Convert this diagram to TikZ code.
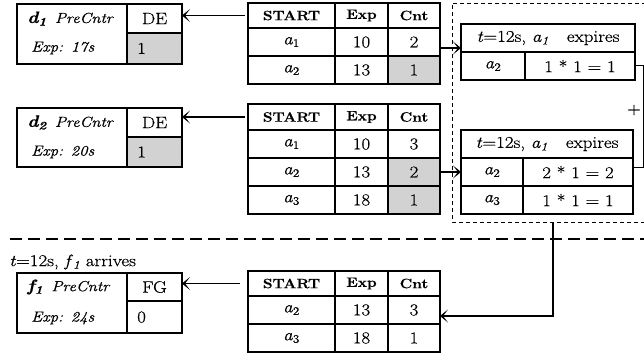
\documentclass[tikz,border=0pt]{standalone}
\usepackage{fontspec}
\setmainfont{Latin Modern Roman}[FakeStretch=1.15,FakeBold=0.6]
\usetikzlibrary{arrows.meta}
\newcommand{\rg}{\fontsize{16.5}{19}\selectfont}
\newcommand{\lb}{\fontsize{14.5}{17}\selectfont}
\newcommand{\bh}{\fontsize{13.5}{16}\selectfont\bfseries}
\newcommand{\va}[1]{\textit{a}\textsubscript{#1}}
\newcommand{\vi}[2]{\textit{#1}\textsubscript{\textit{#2}}}
\begin{document}
\begin{tikzpicture}[x=1pt,y=-1pt,
  cell/.style={draw, line width=1.3pt, outer sep=0pt, inner sep=0pt, anchor=north west, font=\rg},
  hcell/.style={cell, font=\bh},
  wh/.style 2 args={minimum width=#1pt, minimum height=#2pt},
  grey/.style={fill=gray!35},
  arr/.style={line width=1.8pt, -{Stealth[length=8pt,width=13pt,inset=5pt]}},
  lbl/.style={inner sep=0pt, font=\lb, anchor=west},
  vlbl/.style={inner sep=0pt, font=\rg, anchor=west},
  boxline/.style={line width=1pt, dash pattern=on 4pt off 3pt},
  sepline/.style={line width=1.8pt, dash pattern=on 12pt off 6pt},
  thinline/.style={line width=0.7pt}
]
\useasboundingbox (0,0) rectangle (644,356);
\clip (0,0) rectangle (644,356);

% ---------- left boxes ----------
\node[cell, wh={110}{60}] (dl1) at (17,4) {};
\node[cell, wh={55}{29}] (d1h) at (127,4) {DE};
\node[cell, wh={55}{31}, grey] (d1v) at (127,33) {};
\node[vlbl] (d1val) at (137,48.5) {1};
\node[lbl, font=\rg] (d1n) at (27,18.5) {{\bfseries\itshape d\textsubscript{1}}\hspace{0.5em}{\lb\itshape PreCntr}};
\node[lbl] (d1x) at (31,48) {\itshape Exp: 17s};

\node[cell, wh={110}{59}] (dl2) at (17,108) {};
\node[cell, wh={55}{29}] (d2h) at (127,108) {DE};
\node[cell, wh={55}{30}, grey] (d2v) at (127,137) {};
\node[vlbl] (d2val) at (137,152) {1};
\node[lbl, font=\rg] (d2n) at (27,122.5) {{\bfseries\itshape d\textsubscript{2}}\hspace{0.5em}{\lb\itshape PreCntr}};
\node[lbl] (d2x) at (31,152) {\itshape Exp: 20s};

\node[cell, wh={110}{60}] (fl1) at (17,273) {};
\node[cell, wh={55}{28}] (f1h) at (127,273) {FG};
\node[cell, wh={55}{32}] (f1v) at (127,301) {};
\node[vlbl] (f1val) at (137,317) {0};
\node[lbl, font=\rg] (f1n) at (27,287) {{\bfseries\itshape f\textsubscript{1}}\hspace{0.5em}{\lb\itshape PreCntr}};
\node[lbl] (f1x) at (31,318) {\itshape Exp: 24s};

\node[lbl, font=\rg] (arrive) at (9,262) {\textit{t}=12s, \vi{f}{1} arrives};

% ---------- table 1 ----------
\node[hcell, wh={87}{25}] (t1h1) at (248,3) {START};
\node[hcell, wh={53}{25}] (t1h2) at (335,3) {Exp};
\node[hcell, wh={52}{25}] (t1h3) at (388,3) {Cnt};
\node[cell, wh={87}{28}] (t1a1) at (248,28) {\va{1}};
\node[cell, wh={53}{28}] (t1a1e) at (335,28) {10};
\node[cell, wh={52}{28}] (t1a1c) at (388,28) {2};
\node[cell, wh={87}{28}] (t1a2) at (248,56) {\va{2}};
\node[cell, wh={53}{28}] (t1a2e) at (335,56) {13};
\node[cell, wh={52}{28}, grey] (t1a2c) at (388,56) {1};

% ---------- table 2 ----------
\node[hcell, wh={87}{26}] (t2h1) at (248,104) {START};
\node[hcell, wh={53}{26}] (t2h2) at (335,104) {Exp};
\node[hcell, wh={52}{26}] (t2h3) at (388,104) {Cnt};
\node[cell, wh={87}{28}] (t2a1) at (248,130) {\va{1}};
\node[cell, wh={53}{28}] (t2a1e) at (335,130) {10};
\node[cell, wh={52}{28}] (t2a1c) at (388,130) {3};
\node[cell, wh={87}{28}] (t2a2) at (248,158) {\va{2}};
\node[cell, wh={53}{28}] (t2a2e) at (335,158) {13};
\node[cell, wh={52}{28}, grey] (t2a2c) at (388,158) {2};
\node[cell, wh={87}{28}] (t2a3) at (248,186) {\va{3}};
\node[cell, wh={53}{28}] (t2a3e) at (335,186) {18};
\node[cell, wh={52}{28}, grey] (t2a3c) at (388,186) {1};

% ---------- table 3 ----------
\node[hcell, wh={87}{25}] (t3h1) at (248,271) {START};
\node[hcell, wh={53}{25}] (t3h2) at (335,271) {Exp};
\node[hcell, wh={52}{25}] (t3h3) at (388,271) {Cnt};
\node[cell, wh={87}{28}] (t3a2) at (248,296) {\va{2}};
\node[cell, wh={53}{28}] (t3a2e) at (335,296) {13};
\node[cell, wh={52}{28}] (t3a2c) at (388,296) {3};
\node[cell, wh={87}{28}] (t3a3) at (248,324) {\va{3}};
\node[cell, wh={53}{28}] (t3a3e) at (335,324) {18};
\node[cell, wh={52}{28}] (t3a3c) at (388,324) {1};

% ---------- result tables ----------
\node[cell, wh={174}{28}] (r1h) at (461,24) {\textit{t}=12s, \vi{a}{1}\hspace{1.1em}expires};
\node[cell, wh={64}{28}] (r1a2) at (461,52) {\va{2}};
\node[cell, wh={110}{28}] (r1a2v) at (525,52) {1 * 1 = 1};

\node[cell, wh={172}{28}] (r2h) at (461,130) {\textit{t}=12s, \vi{a}{1}\hspace{1.1em}expires};
\node[cell, wh={62}{28}] (r2a2) at (461,158) {\va{2}};
\node[cell, wh={110}{28}] (r2a2v) at (523,158) {2 * 1 = 2};
\node[cell, wh={62}{28}] (r2a3) at (461,186) {\va{3}};
\node[cell, wh={110}{28}] (r2a3v) at (523,186) {1 * 1 = 1};

% dashed group box
\draw[boxline] (660,3) -- (452,3) -- (452,222) -- (660,222);
% separator
\draw[sepline] (10,239) -- (660,239);

% bracket with plus
\coordinate (b1) at (643.5,65);
\coordinate (b2) at (643.5,167);
\draw[thinline] (r1a2v.east |- b1) -- (b1) -- (b2) -- (r2a2v.east |- b2);
\node[font=\rg, inner sep=0pt] (plus) at (634,110) {+};

% ---------- arrows ----------
\draw[arr] ([xshift=-3pt]t1h1.west) -- (t1h1.west -| d1h.east);
\draw[arr] ([xshift=-3pt]t2h1.west) -- (t2h1.west -| d2h.east);
\draw[arr] ([xshift=-8pt]t3h1.west) -- (t3h1.west -| f1h.east);

\coordinate (p1) at ([yshift=-10pt]r1h.west);
\draw[arr] (p1 -| t1a1c.east) -- (p1);
\draw[arr] (t2a2c.east) -- (t2a2c.east -| r2a2.west);

\coordinate (boxb) at (553,222);
\coordinate (p3) at ([yshift=-6pt]t3a2c.east);
\draw[arr] (boxb) |- (p3);
\end{tikzpicture}
\end{document}
